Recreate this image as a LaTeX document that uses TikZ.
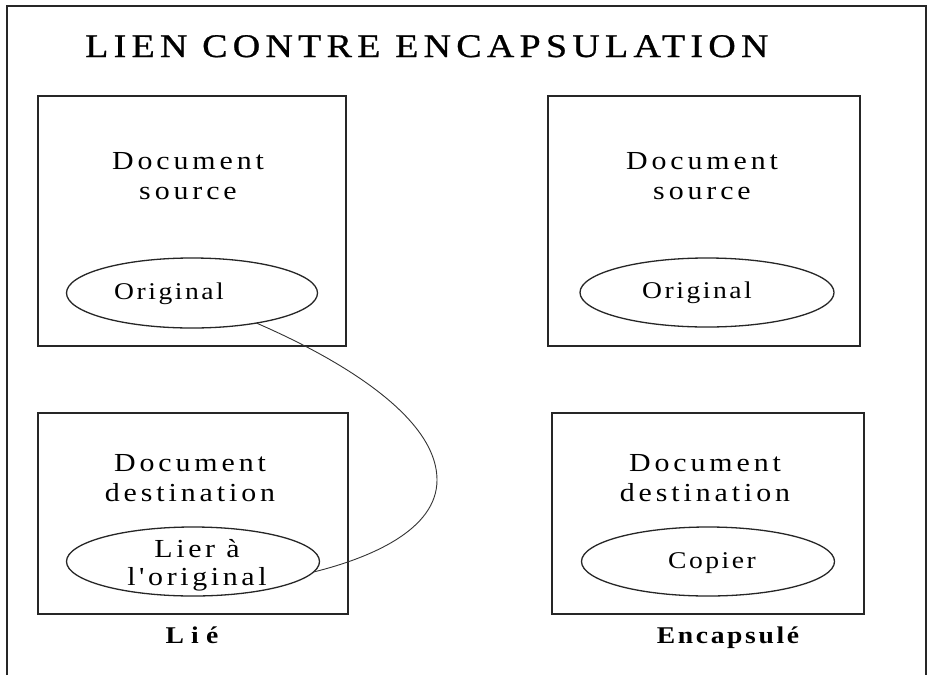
\documentclass[tikz,border=0pt]{standalone}
\usepackage{fontspec}
\setmainfont{Liberation Serif}
\newfontfamily\titlefont[LetterSpace=16,FakeStretch=1.15,FakeBold=0.8]{Liberation Serif}
\newfontfamily\docfont[LetterSpace=15,FakeStretch=1.15]{Liberation Serif}
\newfontfamily\ovalfont[LetterSpace=10.5,FakeStretch=1.15]{Liberation Serif}
\newfontfamily\lienfont[LetterSpace=14,FakeStretch=1.15]{Liberation Serif}
\newfontfamily\capfont[LetterSpace=11,FakeStretch=1.15]{Liberation Serif}
\newfontfamily\capwidefont[LetterSpace=30,FakeStretch=1.15]{Liberation Serif}
\usetikzlibrary{shapes.geometric}
\tikzset{
  frameline/.style={draw=black!85, line width=1.6pt},
  docbox/.style={rectangle, draw=black!85, line width=1.8pt, inner sep=0pt, outer sep=0pt},
  oval/.style={ellipse, draw=black!85, line width=1.3pt, inner sep=0pt, outer sep=0pt},
  titletext/.style={font=\titlefont\fontsize{33}{38}\selectfont, inner sep=0pt, anchor=base west},
  doctext/.style={font=\docfont\fontsize{26}{30}\selectfont, align=center, inner sep=0pt},
  lientext/.style={font=\lienfont\fontsize{26}{28}\selectfont, align=center, inner sep=0pt},
  ovaltext/.style={font=\ovalfont\fontsize{24}{28}\selectfont, inner sep=0pt, anchor=base},
  captext/.style={font=\capfont\bfseries\fontsize{24}{28}\selectfont, inner sep=0pt, anchor=base},
  capwide/.style={captext, font=\capwidefont\bfseries\fontsize{24}{28}\selectfont},
  link/.style={draw=black!80, line width=0.9pt}
}
\begin{document}
\begin{tikzpicture}[x=1pt, y=-1pt]
\useasboundingbox (0,0) rectangle (931,675);
\fill[white] (0,0) rectangle (931,675);
% outer frame (bottom edge outside the picture)
\draw[frameline] (7,675) -- (7,6) -- (926,6) -- (926,675);
% title
\node[titletext] (title) at (85,57) {LIEN CONTRE ENCAPSULATION};
% boxes
\node[docbox, minimum width=308pt, minimum height=250pt] (srcL) at (192,221) {};
\node[docbox, minimum width=312pt, minimum height=250pt] (srcR) at (704,221) {};
\node[docbox, minimum width=310pt, minimum height=201pt] (dstL) at (193,513.5) {};
\node[docbox, minimum width=312pt, minimum height=201pt] (dstR) at (708,513.5) {};
% box texts
\node[doctext] (tsrcL) at (188,176) {Document\\source};
\node[doctext] (tsrcR) at (702,176) {Document\\source};
\node[doctext] (tdstL) at (190,478) {Document\\destination};
\node[doctext] (tdstR) at (705,478) {Document\\destination};
% ovals
\node[oval, minimum width=251pt, minimum height=70pt] (origL) at (192,293) {};
\node[oval, minimum width=254pt, minimum height=69pt] (origR) at (707,292.5) {};
\node[oval, minimum width=253pt, minimum height=69pt] (lier) at (193,561.5) {};
\node[oval, minimum width=253pt, minimum height=69pt] (copier) at (708,561.5) {};
% oval texts
\node[ovaltext] (torigL) at (169,299) {Original};
\node[ovaltext] (torigR) at (697,298) {Original};
\node[lientext] (tlier) at (197,565) {Lier à\\l'original};
\node[ovaltext] (tcopier) at (712,568) {Copier};
% captions
\node[capwide] (cLie) at (192,643) {Lié};
\node[captext] (cEnc) at (728,643) {Encapsulé};
% link curve
\coordinate (bend) at (437,480);
\draw[link] (origL.-25) .. controls (300,342) and (437,405) .. (bend)
  .. controls (437,530) and (370,558) .. (lier.-5);
\end{tikzpicture}
\end{document}
